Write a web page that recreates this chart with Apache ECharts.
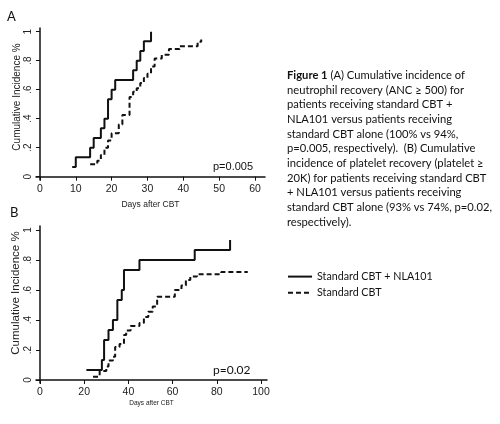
<!DOCTYPE html>
<html><head><meta charset="utf-8">
<script src="https://cdn.jsdelivr.net/npm/echarts@6/dist/echarts.min.js"></script>
<style>html,body{margin:0;padding:0;background:#fff}#c{width:500px;height:424px}</style>
</head><body><div id="c"></div>
<script>
// ---- data ----
const seriesNames = ['Standard CBT + NLA101', 'Standard CBT'];

// Panel A: neutrophil recovery
const aNlaDays = [9, 10, 14, 15, 17, 18, 19, 20, 21, 26, 27, 28, 29, 31];
const aNlaCI   = [0.067, 0.133, 0.2, 0.267, 0.333, 0.4, 0.533, 0.6, 0.667, 0.733, 0.8, 0.867, 0.933, 1.0];
const aStdDays = [14, 16, 17, 18, 19, 20, 22, 23, 25, 26, 27, 28, 29, 30, 31, 32, 34, 36, 39, 44, 45];
const aStdCI   = [0.085, 0.11, 0.15, 0.2, 0.25, 0.3, 0.36, 0.425, 0.55, 0.585, 0.61, 0.645, 0.68, 0.71, 0.76, 0.815, 0.84, 0.88, 0.90, 0.93, 0.945];

// Panel B: platelet recovery
const bNlaDays = [21, 28, 29, 31, 33, 35, 37, 38, 45, 70, 86];
const bNlaCI   = [0.067, 0.133, 0.267, 0.333, 0.4, 0.533, 0.6, 0.733, 0.8, 0.867, 0.933];
const bStdDays = [24, 27, 30, 31, 33, 34, 36, 38, 39, 41, 45, 47, 49, 51, 53, 61, 64, 66, 68, 71, 82, 94];
const bStdCI   = [0.022, 0.06, 0.09, 0.13, 0.155, 0.22, 0.24, 0.30, 0.33, 0.36, 0.38, 0.42, 0.455, 0.49, 0.555, 0.60, 0.63, 0.667, 0.69, 0.705, 0.72, 0.72];

const xTicksA = [0, 10, 20, 30, 40, 50, 60];
const xTicksB = [0, 20, 40, 60, 80, 100];
const yTicks = [0, 0.2, 0.4, 0.6, 0.8, 1];
const yTickLabels = ['0', '.2', '.4', '.6', '.8', '1'];

const xTitle = 'Days after CBT';
const yTitle = 'Cumulative Incidence %';
const pA = 'p=0.005';
const pB = 'p=0.02';
const captionLines = [
  '{b|Figure 1} (A) Cumulative incidence of',
  'neutrophil recovery (ANC ≥ 500) for',
  'patients receiving standard CBT +',
  'NLA101 versus patients receiving',
  'standard CBT alone (100% vs 94%,',
  'p=0.005, respectively).  (B) Cumulative',
  'incidence of platelet recovery (platelet ≥',
  '20K) for patients receiving standard CBT',
  '+ NLA101 versus patients receiving',
  'standard CBT alone (93% vs 74%, p=0.02,',
  'respectively).'
];

// ---- chart ----
const INK = '#111';
const AX = 'Liberation Sans, Arial, sans-serif';
const CAL = 'Lato, "Open Sans", sans-serif';
const CAP_FS = 11.2;

function pairs(d, v) { return d.map((x, i) => [x, v[i]]); }

function xAxis(idx, min, max, ticks, fs, nameFs, nameGap) {
  return {
    type: 'value', gridIndex: idx, min: min, max: max,
    axisLine: { lineStyle: { color: INK, width: 1.5 } },
    axisTick: { length: 4, customValues: ticks, lineStyle: { color: INK, width: 1 } },
    axisLabel: { customValues: ticks, fontSize: fs, color: '#222', margin: 4, fontFamily: AX },
    splitLine: { show: false },
    name: xTitle, nameLocation: 'middle', nameGap: nameGap,
    nameTextStyle: { fontSize: nameFs, color: '#222', fontFamily: AX }
  };
}
function yAxis(idx, min, max, nameFs, nameGap, shift) {
  return {
    type: 'value', gridIndex: idx, min: min, max: max,
    axisLine: { lineStyle: { color: INK, width: 1.5 } },
    axisTick: { length: 4, customValues: yTicks, lineStyle: { color: INK, width: 1 } },
    axisLabel: {
      customValues: yTicks, rotate: 90, fontSize: 10, color: '#222', margin: 3, fontFamily: AX,
      formatter: v => { const i = yTicks.findIndex(t => Math.abs(t - v) < 1e-6); return i >= 0 ? yTickLabels[i] : ''; }
    },
    splitLine: { show: false },
    name: yTitle, nameLocation: 'middle', nameGap: nameGap,
    nameTextStyle: { fontSize: nameFs, color: '#222', fontFamily: AX, padding: [0, 0, 0, shift] }
  };
}
function line(name, gi, data, dashed) {
  return {
    name: name, type: 'line', xAxisIndex: gi, yAxisIndex: gi, step: 'end',
    symbol: 'none', data: data, silent: true,
    lineStyle: { color: INK, width: 2, type: dashed ? [5, 3] : 'solid' },
    itemStyle: { color: INK }
  };
}

const chart = echarts.init(document.getElementById('c'), null, { renderer: 'canvas' });
chart.setOption({
  animation: false,
  backgroundColor: '#fff',
  grid: [
    { left: 36, top: 28, width: 229, height: 152 },
    { left: 36, top: 226, width: 231, height: 157 }
  ],
  xAxis: [
    xAxis(0, -1.1, 62.8, xTicksA, 10.5, 8.5, 20),
    xAxis(1, -1.8, 102.7, xTicksB, 10.5, 6.5, 17)
  ],
  yAxis: [
    yAxis(0, -0.023, 1.025, 10, 14, 14),
    yAxis(1, -0.02, 1.027, 11.5, 12, 23)
  ],
  legend: {
    data: seriesNames, orient: 'vertical', left: 282, top: 266,
    itemWidth: 24, itemHeight: 14, itemGap: 5, selectedMode: false,
    itemStyle: { opacity: 0, borderWidth: 0 },
    lineStyle: { width: 2 },
    textStyle: { fontFamily: CAL, fontSize: 10.7, color: INK }
  },
  series: [
    line(seriesNames[0], 0, pairs(aNlaDays, aNlaCI), false),
    line(seriesNames[1], 0, pairs(aStdDays, aStdCI), true),
    line(seriesNames[0], 1, pairs(bNlaDays, bNlaCI), false),
    line(seriesNames[1], 1, pairs(bStdDays, bStdCI), true)
  ],
  graphic: [
    { type: 'text', left: 7, top: 10, style: { text: 'A', font: '13px ' + CAL, fill: INK } },
    { type: 'text', left: 10, top: 206, style: { text: 'B', font: '13px ' + CAL, fill: INK } },
    { type: 'text', left: 213, top: 161, style: { text: pA, font: '11px ' + AX, fill: INK } },
    { type: 'text', left: 213, top: 364, style: { text: pB, font: '12px ' + CAL, fill: INK } },
    { type: 'text', left: 287, top: 68, style: {
        text: captionLines.join('\n'), font: CAP_FS + 'px ' + CAL, fill: INK, lineHeight: 14.67,
        rich: { b: { fontWeight: 'bold', fontFamily: CAL, fontSize: CAP_FS, lineHeight: 14.67, fill: INK } }
    } }
  ]
});
</script></body></html>
